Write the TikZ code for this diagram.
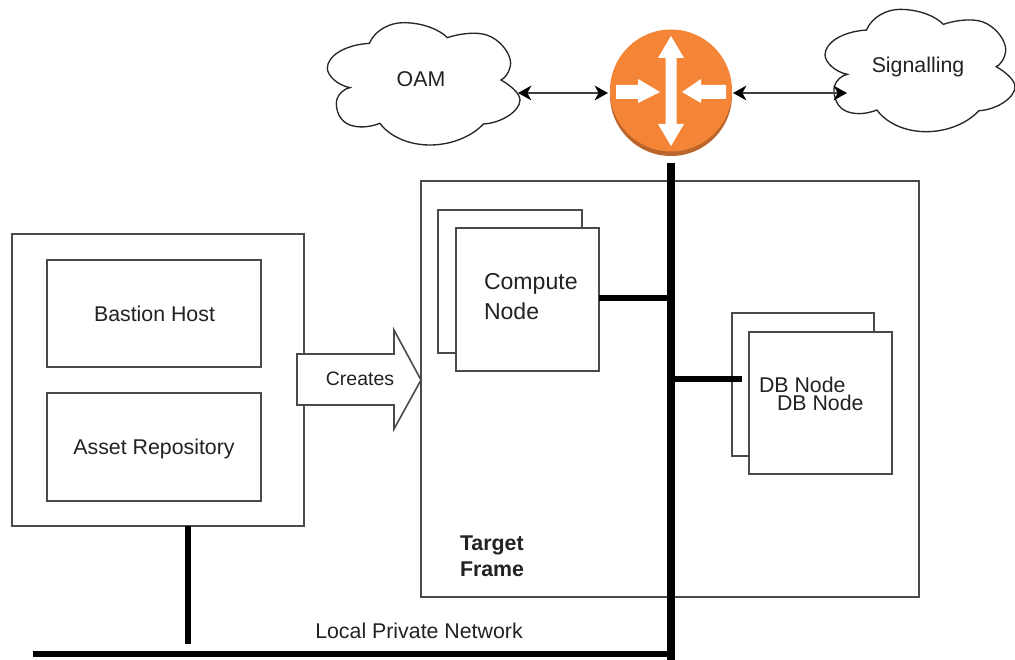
\documentclass[tikz,border=0pt]{standalone}
\usepackage{fontspec}
\setmainfont{Liberation Sans}
\usetikzlibrary{arrows.meta}
\definecolor{routerorange}{HTML}{F58536}
\definecolor{routerdark}{HTML}{B9652C}
\definecolor{linegray}{HTML}{4A4A4A}
\definecolor{textgray}{HTML}{222222}
\newcommand{\px}{0.75pt}
\newcommand{\cloudoutline}{(148,130) .. controls (165,90) and (210,68) .. (250,68)
 .. controls (310,68) and (360,90) .. (382,113)
 .. controls (420,100) and (470,95) .. (500,105)
 .. controls (540,118) and (572,160) .. (572,190)
 .. controls (570,215) and (555,235) .. (543,240)
 .. controls (570,255) and (600,280) .. (600,300)
 .. controls (600,335) and (540,370) .. (490,372)
 .. controls (460,405) and (400,435) .. (330,435)
 .. controls (260,435) and (205,405) .. (180,370)
 .. controls (140,385) and (110,382) .. (90,375)
 .. controls (60,365) and (45,330) .. (50,300)
 .. controls (55,280) and (75,265) .. (90,263)
 .. controls (50,255) and (22,225) .. (22,205)
 .. controls (22,170) and (70,135) .. (148,130) -- cycle}
\tikzset{
  box/.style={draw=linegray,line width=1.6pt,fill=white,inner sep=0pt,outer sep=0pt},
  cloudline/.style={draw=black!85,line width=1pt,fill=white},
  label/.style={inner sep=0pt,outer sep=0pt,text=textgray,font=\fontsize{16}{19.5}\selectfont},
  busline/.style={draw=black,line width=5pt},
  linkarrow/.style={draw=black!75,line width=1.2pt,{Stealth[length=10pt,width=11pt,inset=3pt,color=black]}-{Stealth[length=10pt,width=11pt,inset=3pt,color=black]}},
  whitearrow/.style={fill=white,draw=none},
}
\begin{document}
\begin{tikzpicture}[x=0.75pt,y=-0.75pt]
\useasboundingbox (0,0) rectangle (1015,660);

% left host frame
\node[box,minimum width=292*\px,minimum height=292*\px] (host) at (158,380) {};
\node[box,minimum width=214*\px,minimum height=107*\px] (bastion) at (154,313.5) {};
\node[label] (bastiontext) at (154.5,313.5) {Bastion Host};
\node[box,minimum width=214*\px,minimum height=108*\px] (asset) at (154,447) {};
\node[label] (assettext) at (154,448.5) {Asset Repository};

% target frame
\node[box,minimum width=498*\px,minimum height=416*\px] (target) at (670,389) {};

% compute stack
\node[box,line width=1.3pt,minimum width=144*\px,minimum height=143*\px] (computeback) at (510,281.5) {};
\node[box,minimum width=143*\px,minimum height=143*\px] (compute) at (527.5,299.5) {};
\node[label,anchor=west,align=left,font=\fontsize{17.3}{22}\selectfont] (computetext) at (484,296.5) {Compute\\Node};

% db stack
\node[box,line width=1.3pt,minimum width=142*\px,minimum height=143*\px] (dbback) at (803,384.5) {};
\node[box,minimum width=143*\px,minimum height=142*\px] (db) at (820.5,403) {};
\node[label,anchor=west] (dbtexta) at (759,385) {DB Node};
\node[label,anchor=west] (dbtextb) at (777,403) {DB Node};

% target label
\node[label,anchor=west,align=left,font=\fontsize{16}{19.5}\bfseries\selectfont] (targettext) at (460,556) {Target\\Frame};

% creates arrow
\draw[box,line width=1.2pt] (297,354) -- (394,354) -- (394,330) -- (421,380) -- (394,429) -- (394,405) -- (297,405) -- cycle;
\node[label,font=\fontsize{14.6}{17}\selectfont] (createstext) at (360,379) {Creates};

% clouds
\begin{scope}[shift={(320,0)},x=0.25pt,y=-0.25pt]
  \draw[cloudline] \cloudoutline;
\end{scope}
\begin{scope}[shift={(817.8,-13.3)},x=0.2465pt,y=-0.25pt]
  \draw[cloudline] \cloudoutline;
\end{scope}
\node[label] (oam) at (421,79) {OAM};
\node[label] (signalling) at (918,67) {Signalling};
\coordinate (oamport) at (518,93);
\coordinate (sigport) at (847,93);

% router
\node[circle,fill=routerdark,minimum size=122*\px,inner sep=0pt,outer sep=0pt] (routerbase) at (671,95) {};
\node[circle,fill=routerorange,minimum size=122*\px,inner sep=0pt,outer sep=0pt] (router) at (671,90.5) {};
\fill[whitearrow] (671,36) -- (684,58) -- (676.5,58) -- (676.5,124) -- (684,124) -- (671,146) -- (658,124) -- (665.5,124) -- (665.5,58) -- (658,58) -- cycle;
\fill[whitearrow] (616,85) -- (638,85) -- (638,79) -- (660,92) -- (638,103) -- (638,99) -- (616,99) -- cycle;
\fill[whitearrow] (726,85) -- (701,85) -- (701,79) -- (682,92) -- (701,103) -- (701,99) -- (726,99) -- cycle;

% links
\coordinate (routerwest) at (608,93);
\coordinate (routereast) at (733,93);
\draw[linkarrow] (oamport) -- (routerwest);
\draw[linkarrow] (routereast) -- (sigport);

% network
\coordinate (bustop) at (671,163);
\coordinate (busbottom) at (671,660);
\coordinate (lanwest) at (33,654);
\coordinate (laneast) at (671,654);
\coordinate (hosttap) at (188,526);
\coordinate (hostdrop) at (188,644);
\coordinate (computetap) at (599,298);
\coordinate (computebus) at (671,298);
\coordinate (dbtap) at (742,379);
\coordinate (dbbus) at (671,379);
\draw[busline,line width=6pt] (bustop) -- (busbottom);
\draw[busline] (lanwest) -- (laneast);
\draw[busline] (hosttap) -- (hostdrop);
\draw[busline] (computetap) -- (computebus);
\draw[busline] (dbbus) -- (dbtap);
\node[label] (lan) at (419,631) {Local Private Network};
\end{tikzpicture}
\end{document}
